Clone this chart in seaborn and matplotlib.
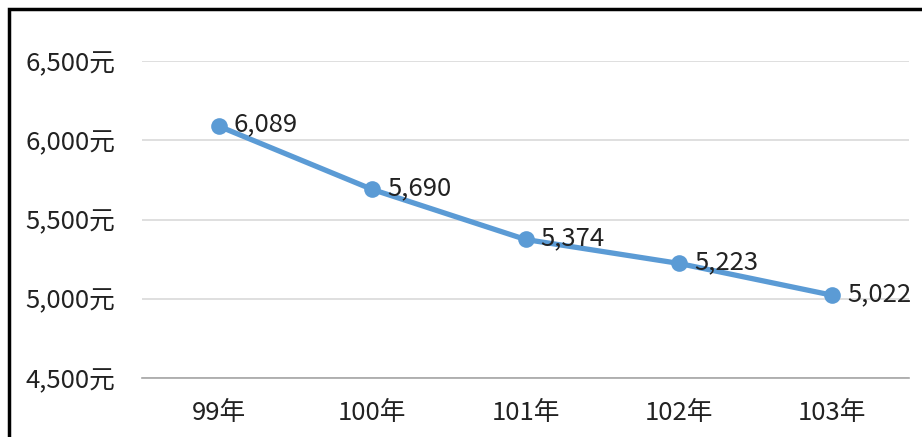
import matplotlib
matplotlib.use("Agg")
import matplotlib.pyplot as plt
import seaborn as sns
import pandas as pd
from matplotlib.patches import Rectangle

years = ["99年", "100年", "101年", "102年", "103年"]
amounts = [6089, 5690, 5374, 5223, 5022]
y_ticks = [4500, 5000, 5500, 6000, 6500]
y_tick_labels = ["4,500元", "5,000元", "5,500元", "6,000元", "6,500元"]

sns.set_theme(style="white")
plt.rcParams['font.family'] = ['Noto Sans CJK TC', 'DejaVu Sans']

df = pd.DataFrame({"year": years, "amount": amounts})

fig = plt.figure(figsize=(9.22, 4.37), dpi=100)
ax = fig.add_axes([142 / 922, 1 - 378 / 437, (909 - 142) / 922, (378 - 61) / 437])

sns.lineplot(data=df, x="year", y="amount", ax=ax, color="#5B9BD5",
             linewidth=3.8, marker="o", markersize=12, markeredgewidth=0,
             sort=False)

for i, v in enumerate(amounts):
    ax.annotate(f"{v:,}", (i, v), xytext=(11, 1), textcoords="offset points",
                ha="left", va="center", fontsize=18.5, color="#222222")

ax.set_xlim(-0.5, len(years) - 0.5)
ax.set_ylim(4500, 6500)
ax.set_yticks(y_ticks)
ax.set_yticklabels(y_tick_labels)
ax.set_xlabel("")
ax.set_ylabel("")
ax.yaxis.grid(True, color="#D9D9D9", linewidth=1.2)
ax.set_axisbelow(True)
for side in ["top", "right", "left"]:
    ax.spines[side].set_visible(False)
ax.spines["bottom"].set_color("#A6A6A6")
ax.spines["bottom"].set_linewidth(1.2)
ax.tick_params(axis="y", length=0, pad=19, labelsize=18.5, labelcolor="#222222")
ax.tick_params(axis="x", length=0, pad=16, labelsize=18.5, labelcolor="#222222")

# outer frame of the chart area (cropped on right and bottom)
fig.patches.append(Rectangle((9 / 922, -0.2), 1.2, 1 - 9 / 437 + 0.2,
                             transform=fig.transFigure, fill=False,
                             edgecolor="black", linewidth=2.5))

fig.savefig("out.png", dpi=100)
